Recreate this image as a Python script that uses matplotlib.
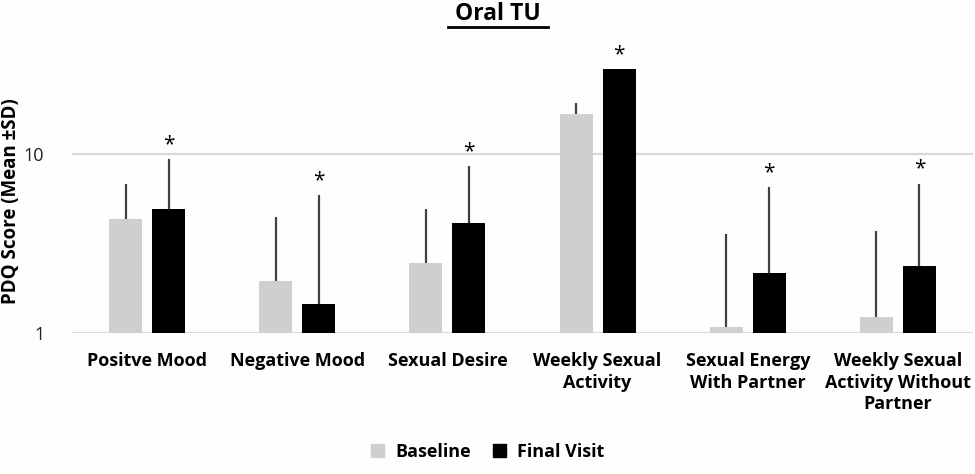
import matplotlib
matplotlib.use("Agg")
import matplotlib.pyplot as plt
import numpy as np
from matplotlib.patches import Patch

categories = ["Positve Mood", "Negative Mood", "Sexual Desire",
              "Weekly Sexual\nActivity", "Sexual Energy\nWith Partner",
              "Weekly Sexual\nActivity Without\nPartner"]
baseline = [4.32, 1.94, 2.45, 16.7, 1.076, 1.23]
baseline_sd_top = [6.78, 4.43, 4.91, 19.3, 3.56, 3.70]
final = [4.91, 1.44, 4.13, 30.0, 2.16, 2.37]
final_sd_top = [9.4, 5.91, 8.62, 30.0, 6.53, 6.84]
significant = [True, True, True, True, True, True]
series_names = ["Baseline", "Final Visit"]
yticks = [1, 10]

FONT = ["Open Sans", "DejaVu Sans"]
plt.rcParams["font.family"] = FONT

bg = "#fefefc"
fig = plt.figure(figsize=(9.75, 4.74), dpi=100, facecolor=bg)
ax = fig.add_axes([72/975, 1-332.7/474, (973-72)/975, (332.7-69.1)/474], facecolor=bg)

x = np.arange(len(categories))
w = 0.22
off = 0.143
c_base = "#cfd0ce"
c_final = "#000000"

ax.bar(x - off, baseline, w, bottom=0, color=c_base, zorder=2)
ax.bar(x + off, final, w, bottom=0, color=c_final, zorder=2)
ax.set_yscale("log")
ax.set_ylim(1, 30.0)
ax.set_xlim(-0.5, len(categories) - 0.5)

ebase = np.array(baseline_sd_top) - np.array(baseline)
efin = np.array(final_sd_top) - np.array(final)
ax.errorbar(x - off, baseline, yerr=[np.zeros_like(ebase), ebase], fmt="none",
            ecolor="#404040", elinewidth=1.6, capsize=0, zorder=3)
ax.errorbar(x + off, final, yerr=[np.zeros_like(efin), efin], fmt="none",
            ecolor="#404040", elinewidth=1.6, capsize=0, zorder=3)

for xi, top, s in zip(x + off, final_sd_top, significant):
    if s:
        ax.annotate("*", (xi, top), xytext=(0, 4), textcoords="offset pixels",
                    ha="center", va="bottom", fontsize=15, annotation_clip=False,
                    family=FONT)

for sp in ax.spines.values():
    sp.set_visible(False)
ax.yaxis.grid(True, which="major", color="#d9d9d9", linewidth=1.6, zorder=0)
ax.set_axisbelow(True)
ax.set_yticks(yticks)
ax.set_yticklabels([str(t) for t in yticks], fontsize=13, color="#222222")
ax.yaxis.set_minor_locator(matplotlib.ticker.NullLocator())
ax.tick_params(axis="y", length=0, pad=20)
ax.set_xticks(x)
ax.set_xticklabels(categories, fontsize=13, fontweight="bold", linespacing=1.25)
ax.tick_params(axis="x", length=0, pad=14)
ax.set_ylabel("PDQ Score (Mean ±SD)", fontsize=13.5, fontweight="bold")
ax.yaxis.set_label_coords((21 - 72) / 901, 0.5)

fig.text(498/975, 1 - 20/474, "Oral TU", ha="center", va="baseline", fontsize=16.5,
         fontweight="bold")
fig.add_artist(plt.Line2D([448/975, 548/975], [1-27/474, 1-27/474],
                          color="black", linewidth=2))

handles = [Patch(color=c_base), Patch(color=c_final)]
fig.legend(handles, series_names, loc="center", bbox_to_anchor=(0.5, 1-452/474),
           ncol=2, frameon=False, prop={"weight": "bold", "size": 13},
           handlelength=0.75, handleheight=0.75, handletextpad=0.6, columnspacing=1.2)

fig.savefig("out.png", dpi=100, facecolor=bg)
